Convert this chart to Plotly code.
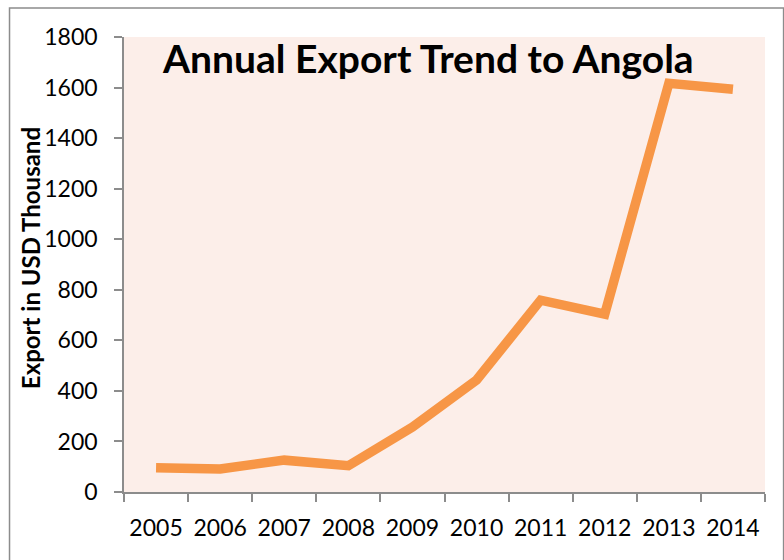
import plotly.graph_objects as go

# Annual exports to Angola, USD thousand
years = ["2005", "2006", "2007", "2008", "2009", "2010", "2011", "2012", "2013", "2014"]
exports = [96, 91, 126, 104, 257, 443, 759, 704, 1617, 1593]

y_ticks = [0, 200, 400, 600, 800, 1000, 1200, 1400, 1600, 1800]

axis_grey = "#8c8c8c"
line_orange = "#F79646"
font_family = "Lato, 'Open Sans', sans-serif"

fig = go.Figure()
fig.add_trace(go.Scatter(
    x=years,
    y=exports,
    mode="lines",
    line=dict(color=line_orange, width=9.5, shape="linear"),
    hoverinfo="x+y",
))

# frame around the whole chart
fig.add_shape(
    type="rect", xref="paper", yref="paper",
    x0=-0.1786, x1=1.029, y0=-0.3, y1=1.0637,
    line=dict(color=axis_grey, width=1.5),
    layer="below",
)

fig.add_annotation(
    text="<b>Annual Export Trend to Angola</b>",
    xref="paper", yref="paper",
    x=0.474, y=0.954,
    xanchor="center", yanchor="middle",
    showarrow=False,
    font=dict(family=font_family, size=39, color="#000000"),
)

# vertical axis title
fig.add_annotation(
    text="<b>Export in USD Thousand</b>",
    xref="paper", yref="paper",
    x=-0.1466, y=0.514,
    xanchor="center", yanchor="middle",
    textangle=-90,
    showarrow=False,
    font=dict(family=font_family, size=24, color="#000000"),
)

fig.update_layout(
    width=784, height=560,
    margin=dict(l=124, r=19, t=37, b=68),
    paper_bgcolor="#ffffff",
    plot_bgcolor="#FCEEE9",
    showlegend=False,
    font=dict(family=font_family, size=23, color="#000000"),
    xaxis=dict(
        type="category",
        tickson="boundaries",
        ticks="outside", ticklen=8, tickwidth=1.5, tickcolor=axis_grey,
        showline=True, linecolor=axis_grey, linewidth=1.5,
        showgrid=False, zeroline=False,
        tickfont=dict(size=23),
        ticklabelstandoff=15,
        range=[-0.5, 9.5],
    ),
    yaxis=dict(
        range=[0, 1800],
        tickvals=y_ticks,
        ticks="outside", ticklen=8, tickwidth=1.5, tickcolor=axis_grey,
        showline=True, linecolor=axis_grey, linewidth=1.5,
        showgrid=False, zeroline=False,
        tickfont=dict(size=23),
        ticklabelstandoff=12,
    ),
)

fig.write_html("out.html")
